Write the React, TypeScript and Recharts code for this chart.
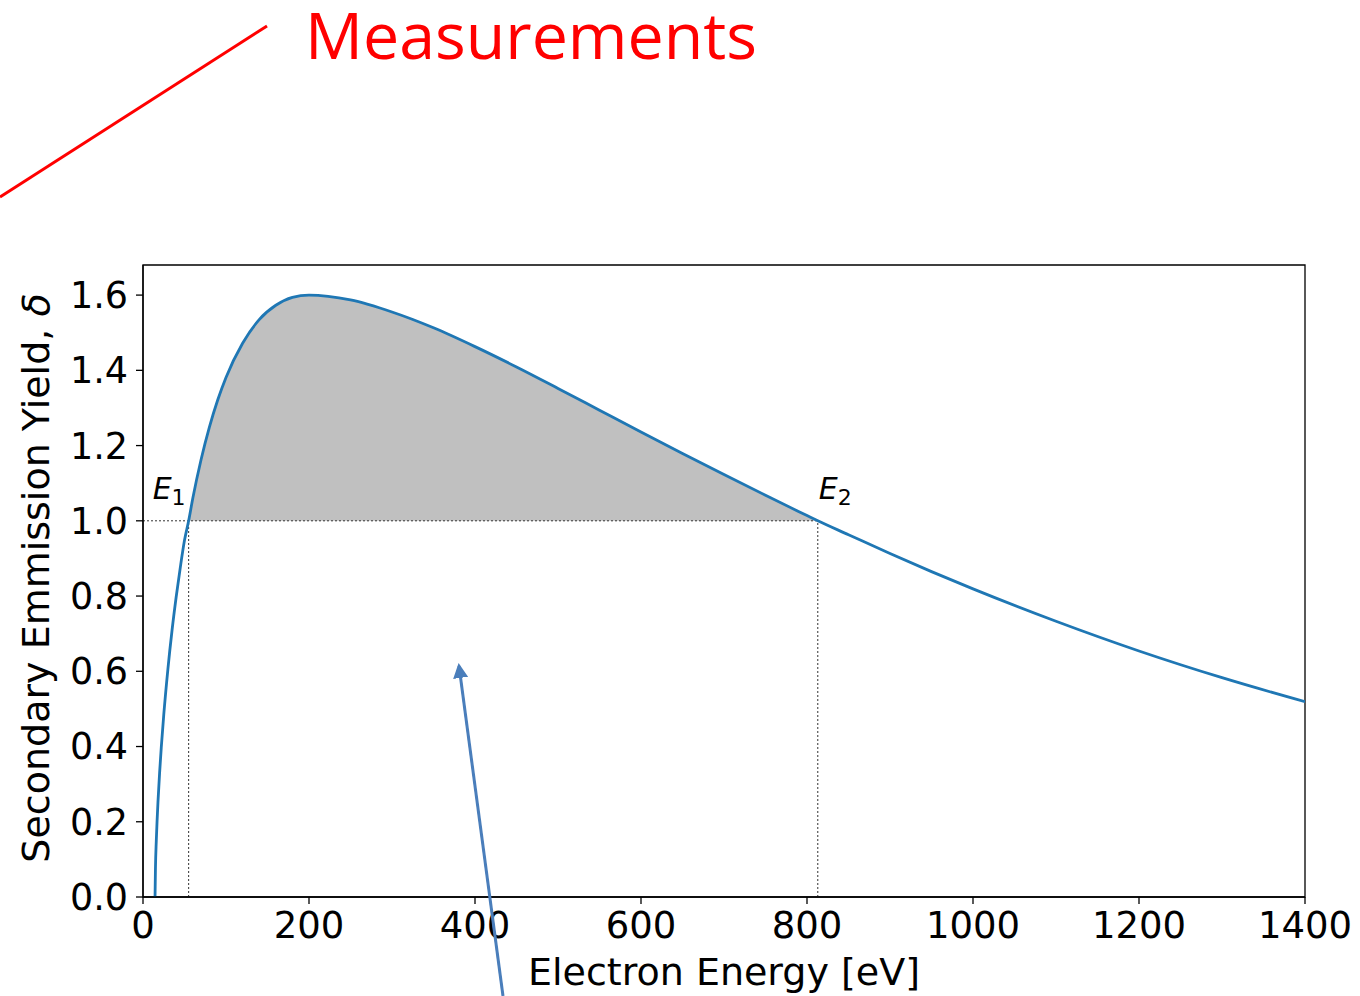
import {
  Area,
  ComposedChart,
  Line,
  ReferenceArea,
  ReferenceDot,
  ReferenceLine,
  XAxis,
  YAxis,
} from "recharts";

// electron energy [eV] and yield
const energy = [
  14.5, 15, 16, 17, 18, 20, 22, 25, 30, 35, 40, 45, 50, 55, 60, 70, 80, 90,
  100, 120, 140, 160, 180, 200, 250, 300, 350, 400, 450, 500, 550, 600, 650,
  700, 750, 800, 813, 850, 900, 950, 1000, 1100, 1200, 1300, 1400,
];
const yieldVals = [
  0, 0.076, 0.149, 0.204, 0.251, 0.33, 0.397, 0.484, 0.606, 0.709, 0.798,
  0.877, 0.948, 1.0, 1.06, 1.163, 1.249, 1.321, 1.381, 1.472, 1.535, 1.573,
  1.594, 1.6, 1.587, 1.555, 1.513, 1.463, 1.409, 1.352, 1.294, 1.236, 1.179,
  1.123, 1.068, 1.014, 1.0, 0.963, 0.913, 0.865, 0.819, 0.733, 0.654, 0.583,
  0.519,
];

const E1 = 55;
const E2 = 813;
const xTicks = [0, 200, 400, 600, 800, 1000, 1200, 1400];
const yTicks = [0, 0.2, 0.4, 0.6, 0.8, 1.0, 1.2, 1.4, 1.6];

const FONT = "'DejaVu Sans', sans-serif";
const BLUE = "#1f77b4";

const data = energy.map((e, i) => {
  const y = yieldVals[i];
  const inside = e >= E1 && e <= E2;
  return { e, y, band: inside ? [1, y] : [1, 1] };
});

const YLabel = (props: any) => {
  const vb = props.viewBox;
  const cx = vb.x + 49;
  const cy = vb.y + vb.height / 2 - 3;
  return (
    <text
      x={cx}
      y={cy}
      transform={`rotate(-90, ${cx}, ${cy})`}
      textAnchor="middle"
      fontSize={38}
      fontFamily={FONT}
      fill="#000"
    >
      Secondary Emmission Yield, <tspan fontStyle="italic">δ</tspan>
    </text>
  );
};

const XLabel = (props: any) => {
  const vb = props.viewBox;
  return (
    <text
      x={vb.x + vb.width / 2}
      y={vb.y + 88}
      textAnchor="middle"
      fontSize={38}
      fontFamily={FONT}
      fill="#000"
    >
      Electron Energy [eV]
    </text>
  );
};

const energyLabel = (sub: string, dx: number) => (props: any) => {
  const vb = props.viewBox;
  return (
    <text
      x={vb.x + dx}
      y={vb.y - 21}
      fontSize={30}
      fontFamily={FONT}
      fill="#000"
    >
      <tspan fontStyle="italic">E</tspan>
      <tspan fontSize={22} dy={6}>
        {sub}
      </tspan>
    </text>
  );
};

export default function App() {
  return (
    <div style={{ position: "absolute", left: 0, top: 0, width: 1360, height: 996 }}>
      <ComposedChart
        width={1360}
        height={996}
        data={data}
        margin={{ top: 265, right: 55, bottom: 0, left: 0 }}
      >
        <XAxis
          dataKey="e"
          type="number"
          domain={[0, 1400]}
          ticks={xTicks}
          allowDataOverflow
          height={99}
          tickSize={7}
          tickMargin={8}
          stroke="#000"
          strokeWidth={1.3}
          tick={{ fontSize: 37, fill: "#000", fontFamily: FONT }}
          label={{ content: XLabel }}
        />
        <YAxis
          type="number"
          domain={[0, 1.68]}
          ticks={yTicks}
          allowDataOverflow
          width={143}
          tickSize={7}
          tickMargin={8}
          stroke="#000"
          strokeWidth={1.3}
          tickFormatter={(v: number) => v.toFixed(1)}
          tick={{ fontSize: 36.5, fill: "#000", fontFamily: FONT }}
          label={{ content: YLabel }}
        />

        <Area
          dataKey="band"
          type="monotone"
          stroke="none"
          fill="#c0c0c0"
          fillOpacity={1}
          isAnimationActive={false}
        />

        <ReferenceLine
          segment={[
            { x: 0, y: 1 },
            { x: E2, y: 1 },
          ]}
          stroke="#333"
          strokeWidth={1}
          strokeDasharray="2 2"
        />
        <ReferenceLine
          segment={[
            { x: E1, y: 0 },
            { x: E1, y: 1 },
          ]}
          stroke="#333"
          strokeWidth={1}
          strokeDasharray="2 2"
        />
        <ReferenceLine
          segment={[
            { x: E2, y: 0 },
            { x: E2, y: 1 },
          ]}
          stroke="#333"
          strokeWidth={1}
          strokeDasharray="2 2"
        />

        <Line
          dataKey="y"
          type="monotone"
          stroke={BLUE}
          strokeWidth={2.8}
          dot={false}
          isAnimationActive={false}
        />

        <ReferenceDot
          x={E1}
          y={1}
          r={1}
          fill="none"
          stroke="none"
          label={{ content: energyLabel("1", -35) }}
        />
        <ReferenceDot
          x={E2}
          y={1}
          r={1}
          fill="none"
          stroke="none"
          label={{ content: energyLabel("2", 2) }}
        />

        {/* box frame */}
        <ReferenceArea
          x1={0}
          x2={1400}
          y1={0}
          y2={1.68}
          fill="none"
          fillOpacity={0}
          stroke="#000"
          strokeWidth={1.3}
        />
      </ComposedChart>

      {/* slide annotations on top */}
      <svg
        width={1360}
        height={996}
        style={{ position: "absolute", left: 0, top: 0, pointerEvents: "none" }}
      >
        <defs>
          <marker
            id="arrowHead"
            viewBox="0 0 10 10"
            refX="8"
            refY="5"
            markerWidth="5"
            markerHeight="5"
            orient="auto"
          >
            <path d="M0,0 L10,5 L0,10 z" fill="#4a7ebb" />
          </marker>
        </defs>
        <line x1={0} y1={197} x2={267} y2={26} stroke="#ff0000" strokeWidth={3} />
        <text
          x={305}
          y={59}
          fontSize={64}
          fontFamily="'Open Sans', sans-serif"
          fill="#ff0000"
          textLength={452}
          lengthAdjust="spacingAndGlyphs"
        >
          Measurements
        </text>
        <line
          x1={503}
          y1={996}
          x2={459}
          y2={666}
          stroke="#4a7ebb"
          strokeWidth={3}
          markerEnd="url(#arrowHead)"
        />
      </svg>
    </div>
  );
}
